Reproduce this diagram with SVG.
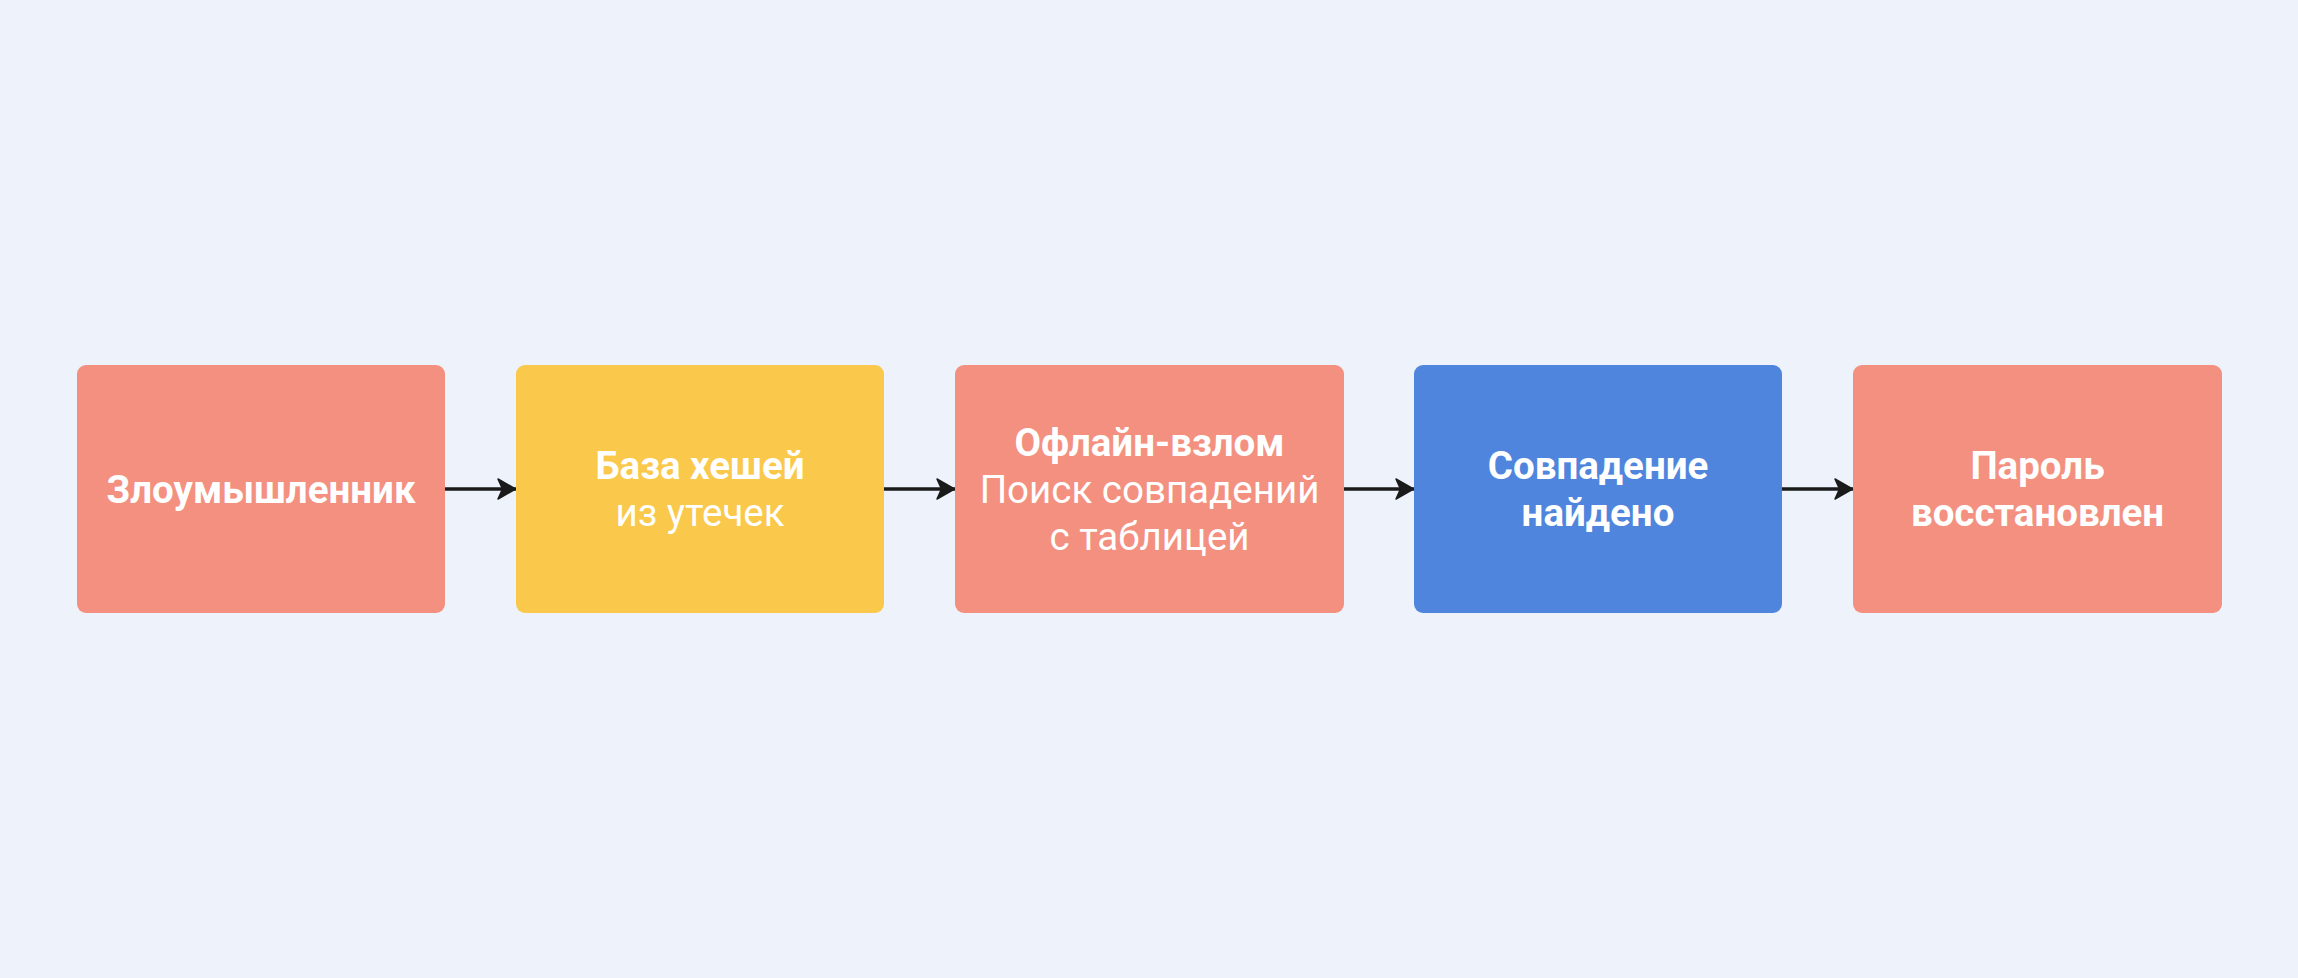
<svg xmlns="http://www.w3.org/2000/svg" width="2298" height="978" viewBox="0 0 2298 978">
<defs>
<style>
.box{stroke:none}
.red{fill:#F4907F}
.yel{fill:#FAC84A}
.blu{fill:#5085DD}
text{font-family:Roboto,"Noto Sans","Liberation Sans",sans-serif;font-size:38.5px;fill:#ffffff;text-anchor:middle}
.b{font-weight:700}
.r{font-weight:400}
.edge{stroke:#1a1a1a;stroke-width:3.5;fill:none}
</style>
<marker id="arr" viewBox="0 0 19 22" refX="19" refY="11" markerWidth="19" markerHeight="22" markerUnits="userSpaceOnUse" orient="auto">
<path d="M18.5,11 L1,1 L5.5,11 L1,21 Z" fill="#1a1a1a" stroke="#1a1a1a" stroke-width="1.5" stroke-linejoin="round"/>
</marker>
</defs>
<rect width="2298" height="978" fill="#EEF2FA"/>
<g id="connectors">
<line class="edge" x1="445" y1="489" x2="516" y2="489" marker-end="url(#arr)"/>
<line class="edge" x1="884" y1="489" x2="955" y2="489" marker-end="url(#arr)"/>
<line class="edge" x1="1344" y1="489" x2="1414" y2="489" marker-end="url(#arr)"/>
<line class="edge" x1="1782" y1="489" x2="1853" y2="489" marker-end="url(#arr)"/>
</g>
<g id="n1">
<rect class="box red" x="77" y="365" width="368" height="248" rx="9"/>
<text class="b" x="261" y="503">Злоумышленник</text>
</g>
<g id="n2">
<rect class="box yel" x="516" y="365" width="368" height="248" rx="9"/>
<text class="b" x="700" y="479">База хешей</text>
<text class="r" x="700" y="526">из утечек</text>
</g>
<g id="n3">
<rect class="box red" x="955" y="365" width="389" height="248" rx="9"/>
<text class="b" x="1149.5" y="456">Офлайн-взлом</text>
<text class="r" x="1149.5" y="503">Поиск совпадений</text>
<text class="r" x="1149.5" y="550">с таблицей</text>
</g>
<g id="n4">
<rect class="box blu" x="1414" y="365" width="368" height="248" rx="9"/>
<text class="b" x="1598" y="479">Совпадение</text>
<text class="b" x="1598" y="526">найдено</text>
</g>
<g id="n5">
<rect class="box red" x="1853" y="365" width="369" height="248" rx="9"/>
<text class="b" x="2037.5" y="479">Пароль</text>
<text class="b" x="2037.5" y="526">восстановлен</text>
</g>
</svg>
